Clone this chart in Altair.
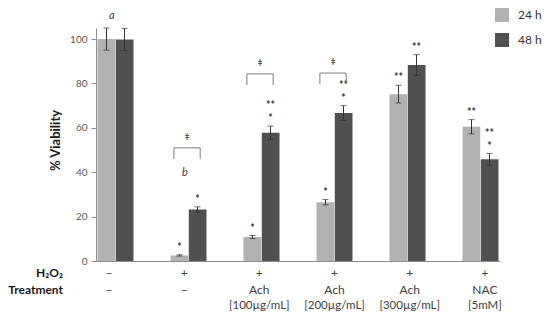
import altair as alt
import pandas as pd

# ---------------- data ----------------
groups = [0, 1, 2, 3, 4, 5]
h2o2 = ["–", "+", "+", "+", "+", "+"]
treat_line1 = ["–", "–", "Ach", "Ach", "Ach", "NAC"]
treat_line2 = ["", "", "[100µg/mL]", "[200µg/mL]", "[300µg/mL]", "[5mM]"]

series = ["24 h", "48 h"]
v24 = [100.0, 2.5, 10.8, 26.5, 75.2, 60.5]
e24 = [5.0, 0.3, 0.7, 1.2, 4.0, 3.2]
v48 = [99.8, 23.2, 57.8, 66.7, 88.3, 45.8]
e48 = [5.0, 1.2, 3.0, 3.3, 4.7, 2.7]
sig24 = ["", "*", "*", "*", "**", "**"]
sig48 = ["", "*", "**\n*", "**\n*", "**", "**\n*"]

bracket_groups = [1, 2, 3]
bracket_top = [51.0, 84.3, 84.7]
bracket_leg = 5.0
dagger = "ǂ"

letter_groups = [0, 1]
letters = ["a", "b"]
letter_y = [110.5, 39.6]

colors = ["#b2b2b2", "#505050"]

# ---------------- tables ----------------
HALF = 0.2466
rows = []
for g, a, ea, sa, b, eb, sb in zip(groups, v24, e24, sig24, v48, e48, sig48):
    for s, v, e, sig, x0, x1, xc in [
        (series[0], a, ea, sa, g - HALF, g - 0.004, g - HALF / 2),
        (series[1], b, eb, sb, g + 0.004, g + HALF, g + HALF / 2),
    ]:
        parts = sig.split("\n")
        rows.append(dict(g=g, s=s, v=v, lo=v - e, hi=v + e,
                         sig_lo=parts[-1], sig_up=parts[0] if len(parts) > 1 else "",
                         x0=x0, x1=x1, xc=xc))
bars = pd.DataFrame(rows)
bars["sy"] = bars["hi"] + 0.8
bars["sy2"] = bars["hi"] + 6.6

brows = []
for k, (g, top) in enumerate(zip(bracket_groups, bracket_top)):
    L, R = g - 0.2, g + 0.16
    for o, (x, y) in enumerate([(L, top - bracket_leg), (L, top), (R, top), (R, top - bracket_leg)]):
        brows.append(dict(k=k, o=o, x=x, y=y))
brackets = pd.DataFrame(brows)
daggers = pd.DataFrame(dict(x=[g - 0.02 for g in bracket_groups],
                            y=[t + 5 for t in bracket_top], t=[dagger] * len(bracket_groups)))
letts = pd.DataFrame(dict(x=[g - 0.05 for g in letter_groups], y=letter_y, t=letters))

labels = pd.DataFrame(dict(x=[g * 1.03 - 0.09 for g in groups], h=h2o2, t1=treat_line1, t2=treat_line2))

W, H = 404, 233
xscale = alt.Scale(domain=[-0.267, 5.267], nice=False, zero=False)
yscale = alt.Scale(domain=[0, 105], nice=False)

xaxis = alt.Axis(labels=False, ticks=False, title=None, grid=False,
                 domainColor="#8c8c8c", values=[])
yaxis = alt.Axis(values=list(range(0, 106, 5)),
                 labelExpr="datum.value % 20 === 0 ? datum.label : ''",
                 tickSize={"condition": {"test": "datum.value % 20 === 0", "value": 5}, "value": 3},
                 grid=False, domainColor="#8c8c8c", tickColor="#8c8c8c",
                 labelColor="#595959", labelFontSize=10, labelPadding=4,
                 title="% Viability", titleFontSize=13, titleFontWeight="bold",
                 titleColor="#1a1a1a", titleX=-41, titleY=112, titleAngle=-90,
                 titleAlign="center", titleBaseline="middle")

base = alt.Chart(bars)

bar_layer = base.mark_bar().encode(
    x=alt.X("x0:Q", scale=xscale, axis=xaxis),
    x2="x1:Q",
    y=alt.Y("v:Q", scale=yscale, axis=yaxis),
    y2=alt.datum(0),
    color=alt.Color("s:N", scale=alt.Scale(domain=series, range=colors),
                    legend=alt.Legend(title=None, orient="none", legendX=399, legendY=-20,
                                      symbolType="square", symbolSize=196, symbolStrokeWidth=0,
                                      labelFontSize=12, labelColor="#333333", rowPadding=11,
                                      labelOffset=9, padding=0)),
)

err_rule = base.mark_rule(color="#333333", strokeWidth=1).encode(
    x="xc:Q", y="lo:Q", y2="hi:Q")
cap_lo = base.mark_tick(orient="horizontal", size=6, thickness=1, color="#333333").encode(
    x="xc:Q", y="lo:Q")
cap_hi = base.mark_tick(orient="horizontal", size=6, thickness=1, color="#333333").encode(
    x="xc:Q", y="hi:Q")
sig_lo = base.mark_text(baseline="bottom", fontSize=10.5, fontWeight="bold", color="#333333").encode(
    x="xc:Q", y="sy:Q", text="sig_lo:N")
sig_up = base.mark_text(baseline="bottom", fontSize=10.5, fontWeight="bold", color="#333333").encode(
    x="xc:Q", y="sy2:Q", text="sig_up:N")

bracket_layer = alt.Chart(brackets).mark_line(color="#7f7f7f", strokeWidth=1).encode(
    x="x:Q", y="y:Q", detail="k:N", order="o:Q")
dagger_layer = alt.Chart(daggers).mark_text(fontSize=9, font="Noto Sans", fontWeight="bold",
                                            color="#555555").encode(
    x="x:Q", y="y:Q", text="t:N")
letter_layer = alt.Chart(letts).mark_text(fontSize=11, fontStyle="italic", color="#404040").encode(
    x="x:Q", y="y:Q", text="t:N")

lab = alt.Chart(labels)
h_row = lab.mark_text(fontSize=12, color="#404040").encode(x="x:Q", y=alt.value(245), text="h:N")
t1_row = lab.mark_text(fontSize=12, color="#404040").encode(x="x:Q", y=alt.value(262), text="t1:N")
t2_row = lab.mark_text(fontSize=11.5, color="#404040").encode(x="x:Q", y=alt.value(278), text="t2:N")

row_names = pd.DataFrame(dict(t=["H₂O₂", "Treatment"], yy=[245, 262]))
name_layer = alt.Chart(row_names).mark_text(align="right", fontSize=12, fontWeight="bold",
                                            color="#1a1a1a").encode(
    x=alt.value(-33), y=alt.Y("yy:Q", scale=None), text="t:N")

chart = alt.layer(bar_layer, err_rule, cap_lo, cap_hi, sig_lo, sig_up, bracket_layer, dagger_layer,
                  letter_layer, h_row, t1_row, t2_row, name_layer).properties(
    width=W, height=H, autosize=alt.AutoSizeParams(type="none"),
    padding={"left": 88, "top": 20, "right": 42, "bottom": 52},
).configure(font="Lato").configure_view(stroke=None)

chart.save("out.html", embed_options={"renderer": "svg", "actions": False})
